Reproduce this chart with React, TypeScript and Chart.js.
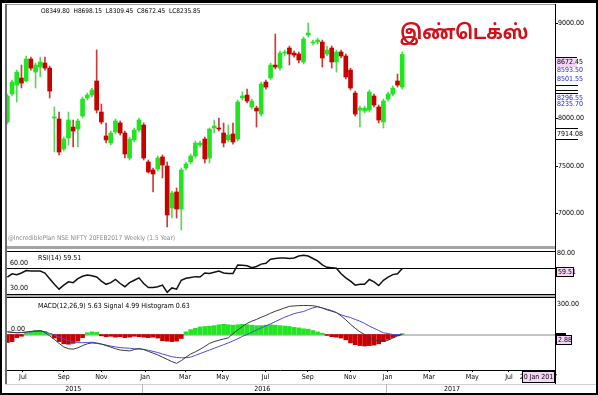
import React, { useEffect, useRef } from 'react';
import Chart from 'chart.js/auto';

// ---------- data (weekly NIFTY candles, Jun 2015 - Jan 2017) ----------
const OPEN = [7961,8256,8350,8424,8393,8624,8487,8540,8582,8529,
  8003,7993,7677,7793,7908,7887,8024,8214,8245,8393,
  8066,7814,7740,7856,7951,7845,7582,7772,7877,7929,
  7540,7456,7466,7593,7498,7056,7224,7045,7477,7540,
  7603,7719,7782,7582,7898,7898,7845,7772,7835,7782,
  8214,8245,8119,8108,8045,8382,8424,8561,8529,8687,
  8740,8687,8677,8593,8877,8793,8803,8803,8677,8740,
  8593,8698,8656,8508,8266,8087,8077,8087,8235,8119,
  7961,8203,8256,8393,8329];
const HIGH = [8256,8403,8508,8561,8656,8645,8582,8645,8645,8550,
  8119,8066,7803,8066,7982,7993,8224,8266,8319,8719,
  8150,7951,7866,7993,7972,7866,7803,7898,8003,7951,
  7561,7477,7603,7614,7540,7235,7266,7477,7540,7624,
  7761,7761,7803,7898,7982,8003,7951,7929,7951,8193,
  8277,8308,8203,8129,8382,8403,8582,8887,8708,8719,
  8761,8708,8698,8856,9003,8824,8845,8824,8761,8761,
  8719,8719,8677,8529,8287,8129,8129,8298,8256,8140,
  8203,8277,8340,8466,8698];
const LOW = [7940,8235,8172,8319,8382,8508,8319,8435,8508,8214,
  7645,7614,7656,7719,7698,7698,8003,8193,8224,8056,
  7940,7740,7719,7835,7824,7582,7561,7751,7856,7561,
  7424,7224,7445,7372,6856,6950,6950,6824,7456,7519,
  7582,7698,7529,7529,7845,7866,7698,7751,7729,7761,
  8193,8161,8098,7908,8024,8308,8403,8519,8508,8656,
  8561,8645,8582,8572,8856,8772,8782,8540,8656,8529,
  8487,8635,8414,8298,8024,7908,8056,8066,8119,7951,
  7898,8182,8235,8329,8308];
const CLOSE = [8235,8382,8487,8371,8624,8529,8561,8593,8529,8287,
  8014,7645,7782,7982,7866,7972,8203,8245,8298,8087,
  7961,7772,7845,7972,7845,7624,7782,7877,7982,7582,
  7435,7414,7582,7508,6982,7214,7045,7456,7519,7603,
  7740,7740,7572,7887,7919,7887,7740,7824,7751,8172,
  8235,8182,8182,8077,8361,8329,8561,8540,8687,8698,
  8677,8666,8614,8835,8898,8803,8824,8635,8719,8593,
  8698,8656,8435,8319,8045,8108,8108,8277,8140,7982,
  8182,8256,8319,8350,8672];
const RSI = [49,53,52,54,57,56.5,56.5,56.5,54,47,
  40,34,39,43,42,47,50,51.5,50.5,49,
  44,40,42,46,41,37,42,45,48,41,
  36,36,37,39,30,35.5,34,45,47.5,48.5,
  49.5,49,54,53.5,55,56.5,54,53.5,53.5,64,
  63.5,63,60.5,62,65,66,71,72,72.5,72.5,
  72,72.5,75,76,75,72,69,64,61,60.5,
  60,53,48,44,39,40,40,46,43,38.5,
  45,49,52,53,59.5];
const MACD = [30,25,20,22,28,35,40,44,25,-15,
  -55,-100,-140,-160,-165,-150,-125,-105,-95,-100,
  -108,-125,-142,-160,-175,-180,-185,-170,-158,-170,
  -190,-210,-230,-255,-280,-305,-325,-295,-255,-220,
  -195,-167,-135,-100,-80,-65,-50,-38,10,50,
  90,125,150,170,195,215,240,262,280,300,
  317,322,325,327,326,324,315,298,278,262,
  248,210,165,115,70,30,0,-37,-60,-74,
  -76,-65,-40,-15,0];
const SIGNAL = [30,25,20,22,25,30,34,37,30,12,
  -5,-30,-50,-70,-82,-92,-92,-90,-87,-95,
  -108,-119,-130,-140,-148,-152,-155,-160,-164,-167,
  -178,-190,-203,-220,-235,-250,-259,-262,-262,-255,
  -235,-215,-195,-175,-155,-135,-115,-95,-72,-48,
  -22,0,25,50,75,98,120,145,170,195,
  215,235,248,259,280,300,312,300,285,270,
  245,222,205,190,170,150,125,95,70,45,
  20,10,0,0,0];
const HIST = [-90,-80,-35,-20,20,35,45,45,35,10,
  -40,-80,-105,-110,-100,-75,-35,20,30,25,
  -15,-25,-20,-30,-25,-35,-30,-20,-25,-30,
  -35,-30,-40,-70,-75,-80,-75,-45,30,55,
  70,85,90,95,100,110,115,110,105,110,
  115,110,105,100,100,105,110,105,100,95,
  90,80,75,65,60,45,30,15,-10,-25,
  -30,-40,-60,-95,-115,-125,-130,-125,-120,-105,
  -80,-55,-35,-15,10];

const MONTH_LABELS = ['Jul','Sep','Nov','Jan','Mar','May','Jul','Sep','Nov','Jan','Mar','May','Jul'];
const MONTH_POS = [3.3, 12, 20, 29.3, 37.8, 45.8, 54.9, 63.9, 72.9, 80.9, 89.7, 98.9, 106.7];
const YEAR_LABELS = ['2015', '2016', '2017'];
const YEAR_POS = [14, 54.2, 94.6];
const YEAR_SEP = [28.6, 80.5];

const PRICE_TICKS = [9000, 8000, 7500, 7000];
const SIDE_VALUES = [8672.45, 8593.5, 8501.55, 8296.55, 8235.7, 7914.08];
const SIDE_MARKS = [8350, 8297, 8266];
const RSI_LEVEL = 60;
const RSI_LEFT_LABELS = [60, 30];
const RSI_TOP = 80;
const RSI_LAST = 59.51;
const MACD_TOP_LABEL = 300;

const TITLE = 'இண்டெக்ஸ்';
const HEADER = 'O8349.80  H8698.15  L8309.45  C8672.45  LC8235.85';
const FOOTER = '@IncrediblePlan NSE NIFTY 20FEB2017 Weekly (1.5 Year)';
const RSI_TITLE = 'RSI(14) 59.51';
const MACD_TITLE = 'MACD(12,26,9) 5.63 Signal 4.99 Histogram 0.63';
const MACD_BOX = '2.88';
const DATE_BOX = '20 Jan 2017';

// ---------- styling ----------
const X_MIN = -0.5;
const X_MAX = 116.5;
const NARROW = "'Liberation Sans Narrow', 'Arial Narrow', 'DejaVu Sans Condensed', sans-serif";
const GREEN = '#22e522';
const GREEN_WICK = '#5ad65a';
const RED = '#c80000';
const RED_WICK = '#cc3a3a';
const PINK = '#f6d6f6';

const pricePlugin = {
  id: 'priceDeco',
  afterDraw(chart: any) {
    const { ctx, chartArea: a } = chart;
    const ys = chart.scales.y;
    ctx.save();
    ctx.font = `7px ${NARROW}`;
    ctx.textAlign = 'left';
    ctx.textBaseline = 'middle';
    ctx.fillStyle = '#000';
    for (const v of PRICE_TICKS) {
      const py = Math.round(ys.getPixelForValue(v));
      ctx.fillRect(a.right + 1, py, 2, 1);
      ctx.fillText(v.toFixed(2), a.right + 3, py + 0.5);
    }
    for (const v of SIDE_MARKS) {
      const py = Math.round(ys.getPixelForValue(v));
      ctx.fillStyle = '#000';
      ctx.fillRect(a.right + 1, py, 22, 1);
    }
    SIDE_VALUES.forEach((v, i) => {
      const py = Math.round(ys.getPixelForValue(v)) + 8;
      if (i === 0) {
        ctx.fillStyle = PINK;
        ctx.fillRect(a.right + 1, py - 4, 21, 9);
        ctx.fillStyle = '#000';
        ctx.fillRect(a.right + 1, py - 5, 21, 1);
      } else if (i === SIDE_VALUES.length - 1) {
        ctx.fillStyle = '#000';
        ctx.fillRect(a.right + 1, py - 6, 22, 1);
        ctx.fillRect(a.right + 1, py + 5, 22, 1);
      } else {
        ctx.fillStyle = '#2424c8';
      }
      ctx.fillText(v.toFixed(2), a.right + 2, py + 0.5);
    });
    ctx.fillStyle = '#000';
    ctx.font = `6.5px ${NARROW}`;
    ctx.fillText(HEADER, a.left + 36, a.top + 6);
    ctx.fillStyle = '#8a8a8a';
    ctx.fillText(FOOTER, a.left + 3, a.bottom - 9);
    ctx.restore();
  },
};

const rsiPlugin = {
  id: 'rsiDeco',
  beforeDatasetsDraw(chart: any) {
    const { ctx, chartArea: a } = chart;
    const py = Math.round(chart.scales.y.getPixelForValue(RSI_LEVEL)) + 0.5;
    ctx.save();
    ctx.strokeStyle = '#000';
    ctx.lineWidth = 1;
    ctx.beginPath();
    ctx.moveTo(a.left, py);
    ctx.lineTo(a.right, py);
    ctx.stroke();
    ctx.restore();
  },
  afterDraw(chart: any) {
    const { ctx, chartArea: a } = chart;
    const ys = chart.scales.y;
    ctx.save();
    ctx.font = `7px ${NARROW}`;
    ctx.textAlign = 'left';
    ctx.textBaseline = 'bottom';
    ctx.fillStyle = '#000';
    for (const v of RSI_LEFT_LABELS) {
      ctx.fillText(v.toFixed(2), a.left + 5, Math.min(ys.getPixelForValue(v), a.bottom) - 1);
    }
    ctx.textBaseline = 'middle';
    ctx.fillText(RSI_TITLE, a.left + 33, a.top + 6);
    ctx.fillText(RSI_TOP.toFixed(2), a.right + 2, ys.getPixelForValue(RSI_TOP) + 1);
    const by = Math.round(ys.getPixelForValue(RSI_LAST)) + 3;
    ctx.fillStyle = PINK;
    ctx.fillRect(a.right + 1, by - 4, 17, 9);
    ctx.strokeStyle = '#000';
    ctx.lineWidth = 1;
    ctx.strokeRect(a.right + 1.5, by - 4.5, 17, 9);
    ctx.fillStyle = '#000';
    ctx.fillText(RSI_LAST.toFixed(2), a.right + 3, by + 0.5);
    ctx.restore();
  },
};

const macdPlugin = {
  id: 'macdDeco',
  beforeDatasetsDraw(chart: any) {
    const { ctx, chartArea: a } = chart;
    const py = Math.round(chart.scales.y.getPixelForValue(0));
    ctx.save();
    ctx.fillStyle = '#c4c4c4';
    ctx.fillRect(a.left, py - 1, a.right - a.left, 2);
    ctx.restore();
  },
  afterDraw(chart: any) {
    const { ctx, chartArea: a } = chart;
    const ys = chart.scales.y;
    const xs = chart.scales.x;
    ctx.save();
    ctx.font = `7px ${NARROW}`;
    ctx.textAlign = 'left';
    ctx.textBaseline = 'middle';
    ctx.fillStyle = '#000';
    ctx.fillText(MACD_TITLE, a.left + 33, a.top + 7);
    ctx.textBaseline = 'bottom';
    ctx.fillText((0).toFixed(2), a.left + 6, ys.getPixelForValue(0) - 2);
    ctx.textBaseline = 'middle';
    ctx.fillText(MACD_TOP_LABEL.toFixed(2), a.right + 2, ys.getPixelForValue(MACD_TOP_LABEL) - 4);
    const z = Math.round(ys.getPixelForValue(0));
    ctx.fillRect(a.right + 1, z - 2, 10, 2);
    ctx.fillStyle = PINK;
    ctx.fillRect(a.right + 1, z + 1, 15, 9);
    ctx.strokeStyle = '#000';
    ctx.lineWidth = 1;
    ctx.strokeRect(a.right + 1.5, z + 0.5, 15, 9);
    ctx.fillStyle = '#000';
    ctx.fillText(MACD_BOX, a.right + 3, z + 5.5);

    // year row
    const base = a.bottom;
    ctx.fillStyle = '#cfcfcf';
    ctx.fillRect(a.left, base + 14, chart.width - a.left, 1);
    for (const v of YEAR_SEP) {
      ctx.fillStyle = '#b8b8b8';
      ctx.fillRect(Math.round(xs.getPixelForValue(v)), base + 14, 1, 10);
    }
    ctx.fillStyle = '#000';
    ctx.textAlign = 'center';
    YEAR_LABELS.forEach((t, i) => ctx.fillText(t, xs.getPixelForValue(YEAR_POS[i]), base + 19.5));

    // date box
    ctx.fillStyle = PINK;
    ctx.fillRect(a.right - 33, base + 1, 33, 12);
    ctx.strokeStyle = '#000';
    ctx.strokeRect(a.right - 32.5, base + 1.5, 32, 11);
    ctx.fillStyle = '#000';
    ctx.fillText(DATE_BOX, a.right - 16.5, base + 7.5);
    ctx.restore();
  },
};

export default function App() {
  const pRef = useRef<HTMLCanvasElement>(null);
  const rRef = useRef<HTMLCanvasElement>(null);
  const mRef = useRef<HTMLCanvasElement>(null);

  useEffect(() => {
    const idx = OPEN.map((_, i) => i);
    const up = idx.map((i) => CLOSE[i] >= OPEN[i]);
    const hiddenX = { type: 'linear' as const, min: X_MIN, max: X_MAX, display: false, offset: false };
    const base = {
      animation: false as const,
      responsive: false,
      maintainAspectRatio: false,
    };

    const price = new Chart(pRef.current as HTMLCanvasElement, {
      type: 'bar',
      data: {
        datasets: [
          {
            data: idx.map((i) => ({ x: i, y: [OPEN[i], CLOSE[i]] })) as any,
            backgroundColor: up.map((u) => (u ? GREEN : RED)),
            barThickness: 4,
            minBarLength: 1,
            grouped: false,
            borderWidth: 0,
            order: 0,
          } as any,
          {
            data: idx.map((i) => ({ x: i, y: [LOW[i], HIGH[i]] })) as any,
            backgroundColor: up.map((u) => (u ? GREEN_WICK : RED_WICK)),
            barThickness: 1,
            grouped: false,
            borderWidth: 0,
            order: 1,
          } as any,
        ],
      },
      options: {
        ...base,
        layout: { padding: { left: 5, right: 43, top: 5, bottom: 1 } },
        plugins: { legend: { display: false }, tooltip: { enabled: false } },
        scales: {
          x: hiddenX as any,
          y: { min: 6645, max: 9193, display: false },
        },
      },
      plugins: [pricePlugin],
    });

    const rsi = new Chart(rRef.current as HTMLCanvasElement, {
      type: 'line',
      data: {
        datasets: [
          {
            data: idx.map((i) => ({ x: i, y: RSI[i] })),
            borderColor: '#111',
            borderWidth: 1.5,
            pointRadius: 0,
            tension: 0,
            fill: false,
          },
        ],
      },
      options: {
        ...base,
        layout: { padding: { left: 5, right: 43, top: 4, bottom: 2 } },
        plugins: { legend: { display: false }, tooltip: { enabled: false } },
        scales: {
          x: hiddenX as any,
          y: { min: 28, max: 80, display: false },
        },
      },
      plugins: [rsiPlugin],
    });

    const macd = new Chart(mRef.current as HTMLCanvasElement, {
      type: 'bar',
      data: {
        datasets: [
          {
            type: 'line',
            data: idx.map((i) => ({ x: i, y: MACD[i] })),
            borderColor: '#3a3a3a',
            borderWidth: 1,
            pointRadius: 0,
            tension: 0,
            order: 0,
          } as any,
          {
            type: 'line',
            data: idx.map((i) => ({ x: i, y: SIGNAL[i] })),
            borderColor: '#4b4bdc',
            borderWidth: 1,
            pointRadius: 0,
            tension: 0,
            order: 0,
          } as any,
          {
            type: 'bar',
            data: idx.map((i) => ({ x: i, y: HIST[i] })),
            backgroundColor: HIST.map((h) => (h >= 0 ? GREEN : RED)),
            barThickness: 4,
            grouped: false,
            borderWidth: 0,
            order: 1,
          } as any,
        ],
      },
      options: {
        ...base,
        layout: { padding: { left: 5, right: 43, top: 1, bottom: 0 } },
        plugins: { legend: { display: false }, tooltip: { enabled: false } },
        scales: {
          x: {
            type: 'linear',
            min: X_MIN,
            max: X_MAX,
            offset: false,
            position: 'bottom',
            afterBuildTicks: (s: any) => {
              s.ticks = MONTH_POS.map((v) => ({ value: v }));
            },
            afterFit: (s: any) => {
              s.height = 25;
            },
            ticks: {
              autoSkip: false,
              maxRotation: 0,
              padding: 1,
              color: '#000',
              font: { family: NARROW, size: 7 },
              callback: (_v: any, i: number) => MONTH_LABELS[i],
            },
            grid: { drawOnChartArea: false, drawTicks: true, tickLength: 2, color: '#000', offset: false },
            border: { display: true, color: '#000' },
          } as any,
          y: { min: -400, max: 400, display: false },
        },
      },
      plugins: [macdPlugin],
    });

    return () => {
      price.destroy();
      rsi.destroy();
      macd.destroy();
    };
  }, []);

  const line = (left: number, top: number, width: number, height: number, color: string) => (
    <div style={{ position: 'absolute', left, top, width, height, background: color }} />
  );

  return (
    <div style={{ position: 'absolute', left: 0, top: 0, width: 598, height: 395, background: '#fff', overflow: 'hidden' }}>
      <canvas ref={pRef} width={598} height={248} style={{ position: 'absolute', left: 0, top: 0 }} />
      <canvas ref={rRef} width={598} height={48} style={{ position: 'absolute', left: 0, top: 248 }} />
      <canvas ref={mRef} width={598} height={97} style={{ position: 'absolute', left: 0, top: 298 }} />
      <div
        style={{
          position: 'absolute',
          left: 400,
          top: 22,
          fontFamily: "'Noto Sans Tamil', 'Noto Serif Tamil', 'Lohit Tamil', sans-serif",
          fontWeight: 700,
          fontSize: 20,
          lineHeight: '24px',
          color: '#d0101a',
          whiteSpace: 'nowrap',
          transform: 'scaleX(0.9)',
          transformOrigin: 'left top',
        }}
      >
        {TITLE}
      </div>
      {line(5, 4, 550, 1, '#9a9a9a')}
      {line(5, 4, 2, 380, '#6a6a6a')}
      {line(555, 4, 1, 380, '#000')}
      {line(7, 246, 548, 3, '#a4a4a4')}
      {line(7, 251, 548, 1, '#000')}
      {line(7, 294, 548, 1, '#000')}
      {line(7, 295, 548, 2, '#b0b0b0')}
      {line(7, 297, 548, 1, '#000')}
      <div
        style={{
          position: 'absolute',
          left: 0,
          top: 0,
          width: 598,
          height: 395,
          boxSizing: 'border-box',
          borderStyle: 'solid',
          borderColor: '#000',
          borderWidth: '3px 2px 2px 2px',
          pointerEvents: 'none',
        }}
      />
    </div>
  );
}
